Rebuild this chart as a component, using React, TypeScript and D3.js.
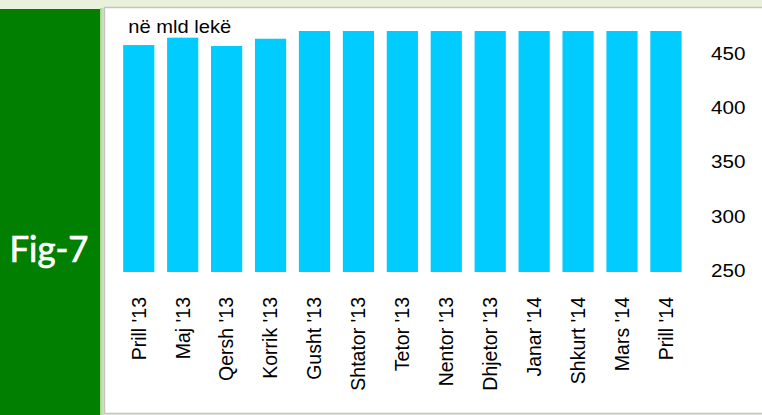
import React from "react";
import * as d3 from "d3";

const categories = ["Prill '13", "Maj '13", "Qersh '13", "Korrik '13", "Gusht '13", "Shtator '13", "Tetor '13", "Nentor '13", "Dhjetor '13", "Janar '14", "Shkurt '14", "Mars '14", "Prill '14"];
const values = [458.4, 465.2, 457.5, 464.2, 471.3, 471.3, 471.3, 471.3, 471.3, 471.3, 471.3, 471.3, 471.3];
const tickValues = [250, 300, 350, 400, 450];
const unitLabel = "në mld lekë";
const figLabel = "Fig-7";

export default function App() {
  const W = 762, H = 415;
  const x = d3.scaleBand<string>().domain(categories).range([116.8, 687.9]).paddingInner(0.29).paddingOuter(0.145);
  const y = d3.scaleLinear().domain([250, 450]).range([272, 54.2]);
  const font = "'Liberation Sans', Arial, sans-serif";
  return (
    <svg width={W} height={H} style={{ position: "absolute", left: 0, top: 0 }} xmlns="http://www.w3.org/2000/svg">
      <defs>
        <linearGradient id="gap" x1="0" x2="1" y1="0" y2="0">
          <stop offset="0" stopColor="#a9d08e" />
          <stop offset="1" stopColor="#e4eed8" />
        </linearGradient>
      </defs>
      <rect x={0} y={0} width={W} height={H} fill="#e9f0dc" />
      <rect x={100} y={8} width={5} height={H - 8} fill="url(#gap)" />
      <rect x={0} y={9} width={100} height={H - 9} fill="#007f00" />
      <rect x={104.5} y={7.5} width={W} height={406} fill="#ffffff" stroke="#c4c4c4" strokeWidth={1.5} />
      <text x={9.5} y={261.7} fill="#ffffff" stroke="#ffffff" strokeWidth={0.7} fontFamily="Lato, 'Open Sans', sans-serif" fontSize={36} textLength={79} lengthAdjust="spacingAndGlyphs">{figLabel}</text>
      <g>
        {categories.map((c, i) => (
          <rect key={c} x={x(c)} y={y(values[i])} width={x.bandwidth()} height={y(250) - y(values[i])} fill="#00ccff" />
        ))}
      </g>
      <g fontFamily={font} fontSize={17.5} fill="#000">
        {tickValues.map((t) => (
          <text key={t} transform={`translate(711,${y(t) + 5.3}) scale(1.18,1)`}>{t}</text>
        ))}
        <text transform={`translate(128.3,33.3) scale(1.15,1)`}>{unitLabel}</text>
      </g>
      <g fontFamily={font} fontSize={19.5} fill="#000">
        {categories.map((c) => (
          <text key={c} transform={`translate(${(x(c) as number) + x.bandwidth() / 2},297) rotate(-90)`} textAnchor="end" dy="0.35em">{c}</text>
        ))}
      </g>
    </svg>
  );
}
